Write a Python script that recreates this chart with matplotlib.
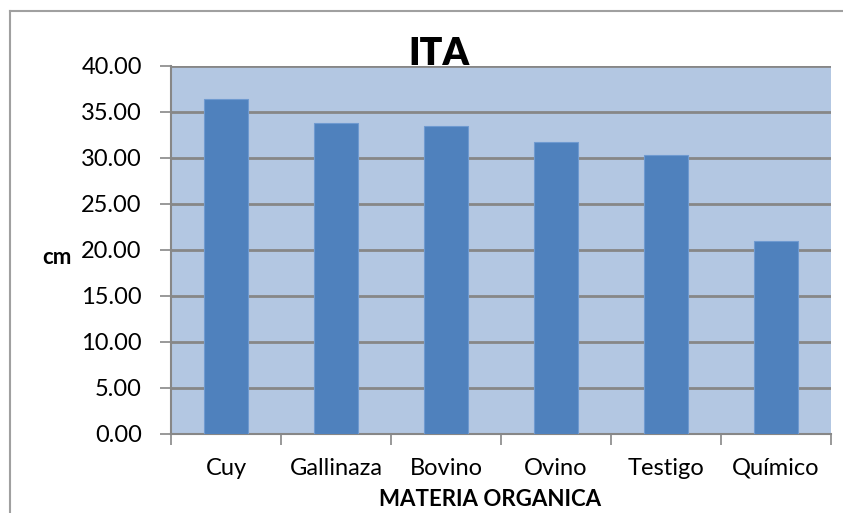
import matplotlib
matplotlib.use("Agg")
import matplotlib.pyplot as plt
from matplotlib.lines import Line2D

categories = ["Cuy", "Gallinaza", "Bovino", "Ovino", "Testigo", "Químico"]
values = [36.38, 33.77, 33.48, 31.70, 30.36, 20.95]
yticks = [0, 5, 10, 15, 20, 25, 30, 35, 40]

W, H = 843, 513
plt.rcParams['font.family'] = ['Lato', 'DejaVu Sans']
fig = plt.figure(figsize=(W / 100, H / 100), dpi=100)

# outer chart border (top and left edges visible)
fig.lines.append(Line2D([10 / W, 10 / W], [-0.05, 1 - 11 / H], transform=fig.transFigure,
                        color="#A0A0A0", linewidth=1.5))
fig.lines.append(Line2D([10 / W, 1.05], [1 - 11 / H, 1 - 11 / H], transform=fig.transFigure,
                        color="#A0A0A0", linewidth=1.5))

left, right, top, bottom = 171, 831, 66, 434
ax = fig.add_axes([left / W, 1 - bottom / H, (right - left) / W, (bottom - top) / H])
ax.set_facecolor("#B3C7E2")

x = list(range(len(categories)))
ax.bar(x, values, width=0.4, color="#4F81BD", edgecolor="#6F9AD0", linewidth=0.8, zorder=3)
ax.set_xlim(-0.5, len(categories) - 0.5)
ax.set_ylim(0, 40)
ax.set_yticks(yticks)
ax.set_yticklabels([f"{v:.2f}" for v in yticks], fontsize=17)
ax.yaxis.grid(True, color="#878787", linewidth=2, zorder=1)
ax.set_axisbelow(True)

ax.set_xticks([i - 0.5 for i in range(len(categories) + 1)], minor=False)
ax.set_xticklabels([""] * (len(categories) + 1))
ax.set_xticks(x, minor=True)
ax.set_xticklabels(categories, minor=True, fontsize=17)
ax.tick_params(axis="x", which="minor", length=0, pad=17)
ax.tick_params(axis="x", which="major", length=8, color="#878787", width=1.2)
ax.tick_params(axis="y", length=8, color="#878787", width=1.2, pad=13)

for s in ["top", "right"]:
    ax.spines[s].set_visible(False)
ax.spines["left"].set_color("#878787")
ax.spines["left"].set_linewidth(1.5)
ax.spines["bottom"].set_color("#878787")
ax.spines["bottom"].set_linewidth(1.5)

fig.text(439 / W, 1 - 54 / H, "ITA", fontsize=27, fontweight="heavy", ha="center", va="center")
fig.text(57 / W, 1 - 257 / H, "cm", fontsize=16, fontweight="bold", ha="center", va="center")
fig.text(490 / W, 1 - 500 / H, "MATERIA ORGANICA", fontsize=16, fontweight="bold", ha="center", va="center")

fig.savefig("out.png", dpi=100)
